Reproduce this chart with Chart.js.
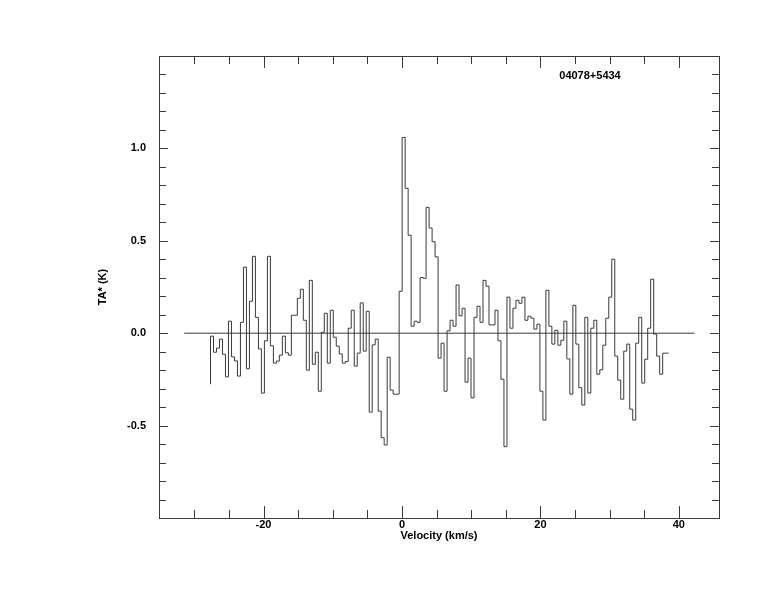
<!DOCTYPE html>
<html>
<head>
<meta charset="utf-8">
<script src="https://cdn.jsdelivr.net/npm/chart.js@4.4.1/dist/chart.umd.min.js"></script>
<style>
    html, body { margin: 0; padding: 0; background: #ffffff; }
    canvas { display: block; }
</style>
</head>
<body>
<canvas id="spectrum" width="774" height="612"></canvas>
<script>
// ==========================================
// Spectrum data (TA* in K, one value per channel)
// ==========================================
const taValues = [
    -0.276, -0.016, -0.103, -0.081, -0.032, -0.114, -0.236, 0.065, -0.128, -0.150,
    -0.232, 0.059, 0.357, -0.193, 0.173, 0.416, 0.086, -0.085, -0.324, -0.041,
    0.416, -0.068, -0.162, -0.151, -0.119, -0.016, -0.106, -0.119, 0.097, 0.097,
    0.189, 0.238, 0.070, -0.200, 0.286, -0.168, -0.103, -0.314, 0.005, 0.108,
    -0.162, 0.124, -0.022, -0.070, -0.112, -0.162, -0.153, 0.027, 0.124, -0.178,
    -0.108, 0.164, -0.097, 0.119, -0.427, -0.063, -0.032, -0.422, -0.566, -0.605,
    -0.130, -0.308, -0.330, -0.330, 0.227, 1.059, 0.784, 0.530, 0.038, 0.065,
    0.059, 0.301, 0.297, 0.681, 0.569, 0.495, 0.413, -0.135, -0.054, -0.314,
    0.013, 0.070, 0.038, 0.261, 0.094, 0.135, -0.265, -0.135, -0.350, 0.086,
    0.146, 0.059, 0.286, 0.254, 0.045, 0.045, 0.124, -0.041, -0.249, -0.614,
    0.195, 0.027, 0.135, 0.178, 0.162, 0.195, 0.070, 0.092, 0.081, 0.022,
    0.049, -0.314, -0.470, 0.232, 0.038, -0.059, 0.016, -0.065, -0.038, 0.065,
    -0.139, -0.330, 0.151, -0.059, -0.295, -0.389, 0.086, -0.324, 0.027, 0.070,
    -0.222, -0.198, -0.065, 0.081, 0.195, 0.400, -0.124, -0.254, -0.357, -0.097,
    -0.059, -0.411, -0.470, -0.054, 0.086, -0.270, -0.141, 0.027, 0.292, -0.005,
    -0.124, -0.222, -0.108
];

const vStart = -27.66;     // left edge of first channel (km/s)
const vStep = 0.4326;      // channel width (km/s)
const baselineRange = [-31.46, 42.28];

const xLabelTicks = [-20, 0, 20, 40];
const yLabelTicks = [-0.5, 0.0, 0.5, 1.0];
const xTickMarks = [-30, -25, -20, -15, -10, -5, 0, 5, 10, 15, 20, 25, 30, 35, 40];
const yTickMarks = [-0.9, -0.8, -0.7, -0.6, -0.5, -0.4, -0.3, -0.2, -0.1, 0.0,
                    0.1, 0.2, 0.3, 0.4, 0.5, 0.6, 0.7, 0.8, 0.9, 1.0,
                    1.1, 1.2, 1.3, 1.4];

const sourceName = "04078+5434";
const lineColor = "#3a3a3a";
const boldFont = { family: "'Liberation Sans', Arial, sans-serif", size: 11, weight: "bold" };


// channel edges -> step points
const spectrumPoints = taValues.map((t, i) => ({ x: vStart + i * vStep, y: t }));
spectrumPoints.push({ x: vStart + taValues.length * vStep, y: taValues[taValues.length - 1] });


// ==========================================
// Frame, inward ticks and source name
// ==========================================
const framePlugin = {
    id: "frame",
    afterDraw(chart) {
        const { ctx, chartArea: a, scales } = chart;
        const xs = scales.x, ys = scales.y;

        ctx.save();
        ctx.strokeStyle = lineColor;
        ctx.lineWidth = 1;
        ctx.strokeRect(a.left + 0.5, a.top + 0.5, a.right - a.left, a.bottom - a.top);

        ctx.beginPath();
        xTickMarks.forEach(v => {
            const px = Math.round(xs.getPixelForValue(v)) + 0.5;
            const len = xLabelTicks.includes(v) ? 12 : 8;
            ctx.moveTo(px, a.bottom);
            ctx.lineTo(px, a.bottom - len);
            ctx.moveTo(px, a.top);
            ctx.lineTo(px, a.top + len);
        });
        yTickMarks.forEach(v => {
            const py = Math.round(ys.getPixelForValue(v)) + 0.5;
            const len = yLabelTicks.includes(v) ? 9 : 7;
            ctx.moveTo(a.left, py);
            ctx.lineTo(a.left + len, py);
            ctx.moveTo(a.right, py);
            ctx.lineTo(a.right - len, py);
        });
        ctx.stroke();

        ctx.fillStyle = "#000000";
        ctx.font = "bold 11px 'Liberation Sans', Arial, sans-serif";
        ctx.textAlign = "center";
        ctx.textBaseline = "middle";
        ctx.fillText(sourceName, 590, 76);
        ctx.restore();
    }
};


// ==========================================
// Chart
// ==========================================
const ctx = document.getElementById("spectrum").getContext("2d");

new Chart(ctx, {

    type: "line",

    data: {
        datasets: [
            {
                label: "Spectrum",
                data: spectrumPoints,
                stepped: "after",
                borderColor: lineColor,
                borderWidth: 1,
                pointRadius: 0,
                fill: false
            },
            {
                label: "Baseline",
                data: baselineRange.map(v => ({ x: v, y: 0 })),
                borderColor: lineColor,
                borderWidth: 1,
                pointRadius: 0,
                fill: false
            }
        ]
    },

    options: {
        responsive: false,
        animation: false,
        layout: {
            padding: { left: 96, top: 56, right: 55, bottom: 69 }
        },
        plugins: {
            legend: { display: false },
            tooltip: { enabled: false }
        },
        scales: {
            x: {
                type: "linear",
                min: -35.1,
                max: 45.8,
                grid: { display: false, drawTicks: false, tickLength: 0 },
                border: { display: false },
                afterBuildTicks: scale => {
                    scale.ticks = xLabelTicks.map(v => ({ value: v }));
                },
                afterFit: scale => { scale.height = 25; },
                ticks: {
                    color: "#000000",
                    font: boldFont,
                    padding: 0,
                    maxRotation: 0,
                    callback: v => String(v)
                },
                title: {
                    display: true,
                    text: "Velocity (km/s)",
                    color: "#000000",
                    font: boldFont,
                    padding: { top: 0, bottom: 0 }
                }
            },
            y: {
                type: "linear",
                min: -1.0,
                max: 1.5,
                grid: { display: false, drawTicks: false, tickLength: 0 },
                border: { display: false },
                afterBuildTicks: scale => {
                    scale.ticks = yLabelTicks.map(v => ({ value: v }));
                },
                afterFit: scale => { scale.width = 63; },
                ticks: {
                    color: "#000000",
                    font: boldFont,
                    padding: 13,
                    callback: v => v.toFixed(1)
                },
                title: {
                    display: true,
                    text: "TA* (K)",
                    color: "#000000",
                    font: boldFont,
                    padding: 0
                }
            }
        }
    },

    plugins: [framePlugin]

});
</script>
</body>
</html>
